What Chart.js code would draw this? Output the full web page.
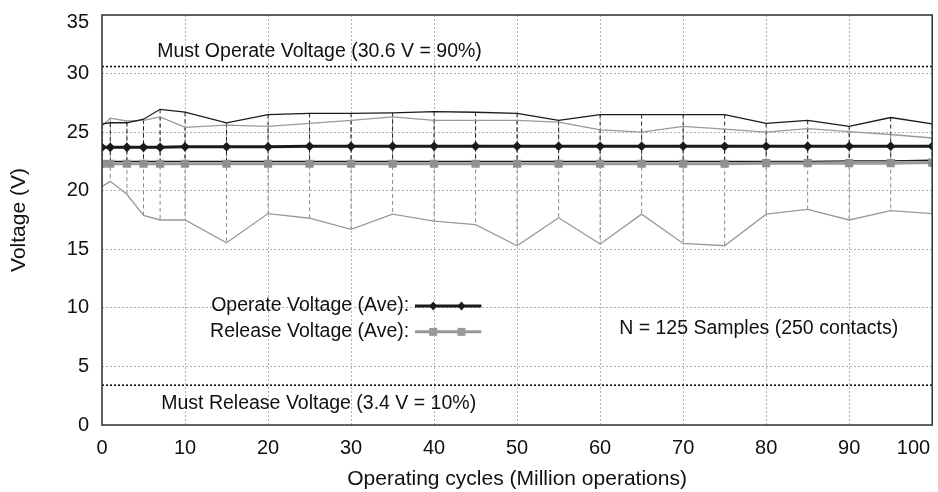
<!DOCTYPE html>
<html>
<head>
<meta charset="utf-8">
<script src="https://cdn.jsdelivr.net/npm/chart.js@4/dist/chart.umd.min.js"></script>
<style>
  html, body { margin: 0; padding: 0; background: #fff; }
  #wrap { width: 938px; height: 492px; }
</style>
</head>
<body>
<div id="wrap"><canvas id="chart" width="938" height="492"></canvas></div>
<script>
// values
const cycles = [0, 1, 3, 5, 7, 10, 15, 20, 25, 30, 35, 40, 45, 50, 55, 60, 65, 70, 75, 80, 85, 90, 95, 100]
const operateAve = [23.7, 23.7, 23.7, 23.7, 23.7, 23.75, 23.75, 23.75, 23.8, 23.8, 23.8, 23.8, 23.8, 23.8, 23.8, 23.8, 23.8, 23.8, 23.8, 23.8, 23.8, 23.8, 23.8, 23.8]
const releaseAve = [22.3, 22.3, 22.3, 22.3, 22.3, 22.3, 22.3, 22.3, 22.3, 22.3, 22.3, 22.3, 22.3, 22.3, 22.3, 22.3, 22.3, 22.3, 22.3, 22.35, 22.35, 22.35, 22.35, 22.4]
const operateMax = [25.7, 25.8, 25.8, 26.1, 26.95, 26.7, 25.8, 26.5, 26.6, 26.6, 26.65, 26.75, 26.7, 26.6, 26.0, 26.5, 26.5, 26.5, 26.5, 25.75, 26.0, 25.5, 26.25, 25.7]
const operateMin = [22.5, 22.5, 22.5, 22.5, 22.5, 22.5, 22.5, 22.5, 22.5, 22.5, 22.5, 22.5, 22.5, 22.5, 22.5, 22.5, 22.5, 22.5, 22.5, 22.5, 22.5, 22.55, 22.55, 22.6]
const releaseMax = [25.5, 26.2, 25.95, 26.0, 26.3, 25.4, 25.6, 25.5, 25.75, 26.0, 26.3, 26.0, 26.0, 26.0, 25.85, 25.2, 25.0, 25.5, 25.25, 25.0, 25.3, 25.05, 24.8, 24.5]
const releaseMin = [20.35, 20.8, 19.7, 17.9, 17.5, 17.5, 15.55, 18.05, 17.65, 16.7, 18.0, 17.4, 17.1, 15.3, 17.7, 15.45, 18.0, 15.5, 15.3, 18.0, 18.4, 17.5, 18.3, 18.05]
const mustOperate = 30.6
const mustRelease = 3.4
const xTicks = [0, 10, 20, 30, 40, 50, 60, 70, 80, 90, 100]
const yTicks = [0, 5, 10, 15, 20, 25, 30, 35]

const FONT = '"Liberation Sans", Arial, Helvetica, sans-serif'
const GRAY = '#999999'
const BLACK = '#1a1a1a'

function series(vals) {
    return cycles.map((c, i) => ({ x: c, y: vals[i] }))
}
function rangePoints(hi, lo) {
    const pts = []
    for (let i = 0; i < cycles.length; i++) {
        pts.push({ x: cycles[i], y: hi[i] }, { x: cycles[i], y: lo[i] }, { x: cycles[i], y: null })
    }
    return pts
}
function level(v) {
    return [{ x: 0, y: v }, { x: 100, y: v }]
}

// texts, legend, frame and the edge tick labels
const extras = {
    id: 'extras',
    afterDatasetsDraw(chart) {
        const ctx = chart.ctx
        const x = chart.scales.x, y = chart.scales.y
        const a = chart.chartArea
        ctx.save()
        ctx.fillStyle = '#111'
        ctx.font = '19.5px ' + FONT
        ctx.textBaseline = 'middle'
        ctx.textAlign = 'center'
        ctx.fillText('Must Operate Voltage (30.6 V = 90%)', x.getPixelForValue(26.2), y.getPixelForValue(31.9))
        ctx.fillText('Must Release Voltage (3.4 V = 10%)', x.getPixelForValue(26.1), y.getPixelForValue(1.8))
        ctx.fillText('N = 125 Samples (250 contacts)', x.getPixelForValue(79.1), y.getPixelForValue(8.2))

        // legend
        const items = [
            { label: 'Operate Voltage (Ave):', color: BLACK, style: 'diamond', yv: 10.15 },
            { label: 'Release Voltage (Ave):', color: GRAY, style: 'square', yv: 7.95 }
        ]
        items.forEach(it => {
            const py = y.getPixelForValue(it.yv)
            ctx.textAlign = 'right'
            ctx.fillStyle = '#111'
            ctx.fillText(it.label, x.getPixelForValue(37.0), py)
            ctx.strokeStyle = it.color
            ctx.lineWidth = 3
            ctx.beginPath()
            ctx.moveTo(x.getPixelForValue(37.7), py)
            ctx.lineTo(x.getPixelForValue(45.7), py)
            ctx.stroke()
            ctx.fillStyle = it.color;
            [39.9, 43.3].forEach(mx => {
                const px = x.getPixelForValue(mx)
                ctx.beginPath()
                if (it.style === 'diamond') {
                    ctx.moveTo(px, py - 4.5); ctx.lineTo(px + 4, py); ctx.lineTo(px, py + 4.5); ctx.lineTo(px - 4, py)
                } else {
                    ctx.rect(px - 4, py - 4, 8, 8)
                }
                ctx.closePath()
                ctx.fill()
            })
        })

        // frame
        ctx.strokeStyle = '#333'
        ctx.lineWidth = 1.5
        ctx.strokeRect(a.left, a.top, a.right - a.left, a.bottom - a.top)

        // last x tick label sits inside the right edge
        ctx.fillStyle = '#111'
        ctx.font = '20px ' + FONT
        ctx.textAlign = 'right'
        ctx.textBaseline = 'middle'
        ctx.fillText(String(xTicks[xTicks.length - 1]), a.right - 2, a.bottom + 23)
        // top y tick label sits a little below the frame top
        ctx.fillText(String(yTicks[yTicks.length - 1]), a.left - 13, a.top + 7)
        ctx.restore()
    }
}

const ctx = document.getElementById('chart').getContext('2d')
const chart = new Chart(ctx, {
    type: 'line',
    data: {
        datasets: [
            { label: 'Operate Voltage (Ave)', data: series(operateAve), borderColor: BLACK, backgroundColor: BLACK, borderWidth: 3, pointStyle: 'rectRot', pointRadius: 4.8, pointBorderWidth: 0 },
            { label: 'Release Voltage (Ave)', data: series(releaseAve), borderColor: GRAY, backgroundColor: '#909090', borderWidth: 3, pointStyle: 'rect', pointRadius: 5.8, pointBorderWidth: 0 },
            { label: 'Operate max', data: series(operateMax), borderColor: BLACK, borderWidth: 1.3, pointRadius: 0 },
            { label: 'Operate min', data: series(operateMin), borderColor: BLACK, borderWidth: 1.3, pointRadius: 0 },
            { label: 'Release max', data: series(releaseMax), borderColor: GRAY, borderWidth: 1.3, pointRadius: 0 },
            { label: 'Release min', data: series(releaseMin), borderColor: GRAY, borderWidth: 1.3, pointRadius: 0 },
            { label: 'Operate range', data: rangePoints(operateMax, operateMin), borderColor: '#222', borderWidth: 1, borderDash: [4, 3], pointRadius: 0, spanGaps: false },
            { label: 'Release range', data: rangePoints(releaseMax, releaseMin), borderColor: '#8a8a8a', borderWidth: 1, borderDash: [4, 3], pointRadius: 0, spanGaps: false },
            { label: 'Must operate', data: level(mustOperate), borderColor: '#111', borderWidth: 1.6, borderDash: [2, 2], pointRadius: 0 },
            { label: 'Must release', data: level(mustRelease), borderColor: '#111', borderWidth: 1.6, borderDash: [2, 2], pointRadius: 0 }
        ]
    },
    options: {
        responsive: false,
        animation: false,
        events: [],
        layout: { padding: { top: 15, right: 3, left: 0, bottom: 0 } },
        plugins: {
            legend: { display: false },
            tooltip: { enabled: false }
        },
        scales: {
            x: {
                type: 'linear',
                min: 0,
                max: 100,
                afterBuildTicks: s => { s.ticks = xTicks.map(v => ({ value: v })) },
                afterFit: s => { s.height = 67; s.paddingLeft = 0; s.paddingRight = 0 },
                ticks: {
                    color: '#111',
                    font: { family: FONT, size: 20 },
                    padding: 11,
                    maxRotation: 0,
                    callback: v => (v === xTicks[xTicks.length - 1] ? '' : String(v))
                },
                grid: { color: '#b0b0b0', lineWidth: 1, drawTicks: false },
                border: { display: false, dash: [2, 2] },
                title: {
                    display: true,
                    text: 'Operating cycles (Million operations)',
                    color: '#111',
                    font: { family: FONT, size: 21 },
                    padding: { top: 0, bottom: 0 }
                }
            },
            y: {
                min: 0,
                max: 35,
                afterBuildTicks: s => { s.ticks = yTicks.map(v => ({ value: v })) },
                afterFit: s => { s.width = 102; s.paddingTop = 0; s.paddingBottom = 0 },
                ticks: {
                    color: '#111',
                    font: { family: FONT, size: 20 },
                    padding: 13,
                    callback: v => (v === yTicks[yTicks.length - 1] ? '' : String(v))
                },
                grid: { color: '#b0b0b0', lineWidth: 1, drawTicks: false },
                border: { display: false, dash: [2, 2] },
                title: {
                    display: true,
                    text: 'Voltage (V)',
                    color: '#111',
                    font: { family: FONT, size: 21 },
                    padding: { top: 7, bottom: 0 }
                }
            }
        }
    },
    plugins: [extras]
})
</script>
</body>
</html>
